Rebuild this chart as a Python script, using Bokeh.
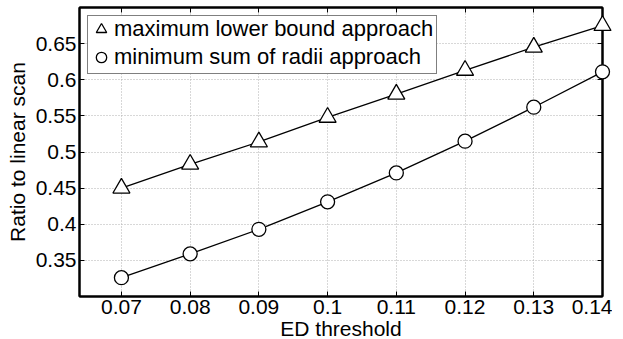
from bokeh.plotting import figure
from bokeh.models import FixedTicker, LinearAxis, Range1d, Legend, LegendItem
from bokeh.embed import file_html
from bokeh.resources import INLINE

# Data
thresholds = [0.07, 0.08, 0.09, 0.10, 0.11, 0.12, 0.13, 0.14]
max_lower_bound = [0.450, 0.483, 0.514, 0.548, 0.580, 0.613, 0.645, 0.675]
min_sum_radii = [0.326, 0.359, 0.393, 0.431, 0.471, 0.515, 0.562, 0.611]

x_ticks = [0.07, 0.08, 0.09, 0.10, 0.11, 0.12, 0.13, 0.14]
x_tick_labels = ["0.07", "0.08", "0.09", "0.1", "0.11", "0.12", "0.13", "0.14"]
y_ticks = [0.35, 0.40, 0.45, 0.50, 0.55, 0.60, 0.65]
y_tick_labels = ["0.35", "0.4", "0.45", "0.5", "0.55", "0.6", "0.65"]

series_names = ["maximum lower bound approach", "minimum sum of radii approach"]

FONT = "Liberation Sans"
FS = "21px"

p = figure(
    frame_width=523, frame_height=289,
    x_range=Range1d(0.0639, 0.14), y_range=Range1d(0.30, 0.70),
    output_backend="svg", toolbar_location=None,
    min_border_left=79, min_border_top=7, min_border_right=10, min_border_bottom=5,
    background_fill_color="white", border_fill_color="white",
)
p.outline_line_color = "black"
p.outline_line_width = 2

xt = FixedTicker(ticks=x_ticks)
yt = FixedTicker(ticks=y_ticks)

for ax in (p.xaxis[0], p.yaxis[0]):
    ax.axis_line_width = 2
    ax.major_tick_in = 5
    ax.major_tick_out = 0
    ax.minor_tick_line_color = None
    ax.major_label_text_font = FONT
    ax.major_label_text_font_size = FS
    ax.major_label_text_color = "black"
    ax.axis_label_text_font = FONT
    ax.axis_label_text_font_size = FS
    ax.axis_label_text_font_style = "normal"
    ax.axis_label_text_color = "black"

p.xaxis[0].ticker = xt
p.yaxis[0].ticker = yt
p.xaxis[0].major_label_overrides = dict(zip(x_ticks, x_tick_labels))
p.yaxis[0].major_label_overrides = dict(zip(y_ticks, y_tick_labels))
p.xaxis[0].axis_label = "ED threshold"
p.yaxis[0].axis_label = "Ratio to linear scan"
p.xaxis[0].major_label_standoff = 3
p.yaxis[0].major_label_standoff = 3
p.xaxis[0].axis_label_standoff = 0
p.yaxis[0].axis_label_standoff = 4

# mirrored ticks on top and right (no labels)
top = LinearAxis(ticker=xt, major_tick_in=5, major_tick_out=0, axis_line_width=2,
                 minor_tick_line_color=None, major_label_text_font_size="0px",
                 major_label_text_color=None, major_label_standoff=0)
right = LinearAxis(ticker=yt, major_tick_in=5, major_tick_out=0, axis_line_width=2,
                   minor_tick_line_color=None, major_label_text_font_size="0px",
                   major_label_text_color=None, major_label_standoff=0)
p.add_layout(top, "above")
p.add_layout(right, "right")

p.xgrid.ticker = xt
p.ygrid.ticker = yt
for g in (p.xgrid[0], p.ygrid[0]):
    g.grid_line_color = "#b0b0b0"
    g.grid_line_dash = "1 2"
    g.grid_line_width = 1

l1 = p.line(thresholds, max_lower_bound, line_color="black", line_width=1.3)
m1 = p.scatter(thresholds, max_lower_bound, marker="triangle", size=17,
               fill_color="white", line_color="black", line_width=1.3)
l2 = p.line(thresholds, min_sum_radii, line_color="black", line_width=1.3)
m2 = p.scatter(thresholds, min_sum_radii, marker="circle", size=14,
               fill_color="white", line_color="black", line_width=1.3)
for r in (l1, m1, l2, m2):
    r.level = "overlay"

legend = Legend(
    items=[LegendItem(label=series_names[0], renderers=[m1]),
           LegendItem(label=series_names[1], renderers=[m2])],
    location="top_left",
    margin=8, padding=(0, 3, 0, 3), spacing=2,
    glyph_width=26, glyph_height=26, label_height=26, label_standoff=0,
    label_text_font=FONT, label_text_font_size="22px", label_text_color="black",
    border_line_color="black", border_line_width=1.5,
    background_fill_color="white", background_fill_alpha=1,
)
p.add_layout(legend)

open("out.html", "w").write(file_html(p, INLINE))
